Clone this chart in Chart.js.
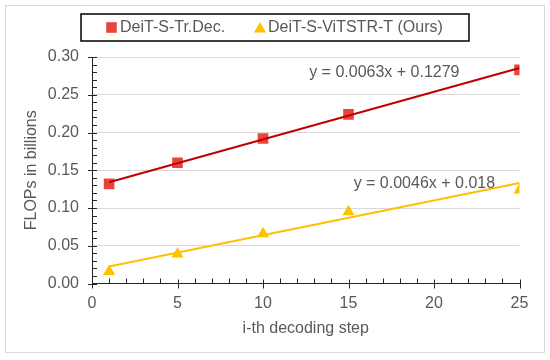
<!DOCTYPE html>
<html>
<head>
<meta charset="utf-8">
<script src="https://cdn.jsdelivr.net/npm/chart.js@4"></script>
<style>
  html, body { margin: 0; padding: 0; background: #fff; }
  canvas { display: block; }
</style>
</head>
<body>
<canvas id="chart" width="550" height="360"></canvas>
<script>
// values
const steps = [1, 5, 10, 15, 25];
const trDec = [0.132, 0.160, 0.192, 0.224, 0.283];
const vitstr = [0.016, 0.039, 0.066, 0.095, 0.124];

// linear trendlines, ends at x = 1 and x = 25
const trendX = [1, 25];
const trDecTrend = [0.1342, 0.2854];
const vitstrTrend = [0.0226, 0.133];

const seriesLabels = ['DeiT-S-Tr.Dec.', 'DeiT-S-ViTSTR-T (Ours)'];
const trendTexts = ['y = 0.0063x + 0.1279', 'y = 0.0046x + 0.018'];
const trendTextAt = [[12.7, 0.279], [15.3, 0.132]];

const RED = '#E9443A', RED_LINE = '#C00000', GOLD = '#FFC000';
const TXT = '#595959', AXIS = '#262626';

Chart.defaults.font.family = "'Liberation Sans', Arial, sans-serif";
Chart.defaults.font.size = 16;
Chart.defaults.color = TXT;

const toPts = (xs, ys) => xs.map((x, i) => ({x, y: ys[i]}));

// frame, legend box, minor/major tick marks, trendline equations
const decor = {
  id: 'decor',
  beforeDraw(chart) {
    const c = chart.ctx;
    c.save();
    c.fillStyle = '#fff';
    c.fillRect(0, 0, chart.width, chart.height);
    c.strokeStyle = '#D9D9D9';
    c.lineWidth = 1;
    c.strokeRect(5.5, 5.5, 539, 347);
    c.restore();
  },
  afterDraw(chart) {
    const c = chart.ctx;
    const xs = chart.scales.x, ys = chart.scales.y;
    const ax = chart.chartArea.left, ay = chart.chartArea.bottom;
    c.save();
    c.strokeStyle = AXIS;
    c.lineWidth = 1;
    c.beginPath();
    for (let i = 0; i <= 30; i++) {
      const py = Math.round(ys.getPixelForValue(i / 100)) + 0.5;
      if (i % 5 === 0) { c.moveTo(ax - 4, py); c.lineTo(ax + 5, py); }
      else { c.moveTo(ax, py); c.lineTo(ax + 5, py); }
    }
    for (let i = 0; i <= 25; i++) {
      const px = Math.round(xs.getPixelForValue(i)) + 0.5;
      if (i % 5 === 0) { c.moveTo(px, ay - 4); c.lineTo(px, ay + 5); }
      else { c.moveTo(px, ay); c.lineTo(px, ay - 5); }
    }
    c.stroke();

    // trendline equations
    c.fillStyle = TXT;
    c.font = "16px 'Liberation Sans', Arial, sans-serif";
    c.textBaseline = 'middle';
    c.textAlign = 'left';
    trendTexts.forEach((t, i) => {
      c.fillText(t, xs.getPixelForValue(trendTextAt[i][0]), ys.getPixelForValue(trendTextAt[i][1]));
    });

    // legend
    c.strokeStyle = '#000';
    c.lineWidth = 1.5;
    c.strokeRect(81, 14, 388, 27);
    const items = [
      {x: 111.5, style: 'rect', r: 7.5, color: RED, tx: 120},
      {x: 260, style: 'triangle', r: 7, color: GOLD, tx: 268}
    ];
    items.forEach((it, i) => {
      c.fillStyle = it.color;
      c.strokeStyle = it.color;
      Chart.helpers.drawPoint(c, {pointStyle: it.style, radius: it.r, borderWidth: 0}, it.x, it.style === 'triangle' ? 29 : 27.5);
      c.fillStyle = TXT;
      c.fillText(seriesLabels[i], it.tx, 28);
    });
    c.restore();
  }
};

new Chart(document.getElementById('chart'), {
  type: 'scatter',
  data: {
    datasets: [
      {label: seriesLabels[0], data: toPts(steps, trDec), pointStyle: 'rect', pointRadius: 7.5,
       backgroundColor: RED, borderColor: RED, borderWidth: 0, order: 2},
      {label: seriesLabels[1], data: toPts(steps, vitstr), pointStyle: 'triangle', pointRadius: 7,
       backgroundColor: GOLD, borderColor: GOLD, borderWidth: 0, order: 2},
      {label: 'trend1', data: toPts(trendX, trDecTrend), showLine: true, pointRadius: 0,
       borderColor: RED_LINE, borderWidth: 2, order: 1},
      {label: 'trend2', data: toPts(trendX, vitstrTrend), showLine: true, pointRadius: 0,
       borderColor: GOLD, borderWidth: 2, order: 1}
    ]
  },
  options: {
    responsive: false,
    animation: false,
    devicePixelRatio: 1,
    layout: {padding: {left: 0, top: 57, right: 30.5, bottom: 0}},
    plugins: {legend: {display: false}, tooltip: {enabled: false}},
    scales: {
      x: {
        type: 'linear', min: 0, max: 25,
        afterFit: s => { s.height = 76.5; },
        ticks: {stepSize: 5, padding: 10, color: TXT},
        grid: {display: true, drawOnChartArea: false, drawTicks: false},
        border: {display: true, color: AXIS, width: 1},
        title: {display: true, text: 'i-th decoding step', color: TXT, padding: {top: 0, bottom: 22}}
      },
      y: {
        type: 'linear', min: 0, max: 0.3,
        afterFit: s => { s.width = 92; },
        ticks: {stepSize: 0.05, padding: 13, color: TXT, callback: v => v.toFixed(2)},
        grid: {color: '#D9D9D9', drawTicks: false},
        border: {display: true, color: AXIS, width: 1},
        title: {display: true, text: 'FLOPs in billions', color: TXT, padding: {top: 22, bottom: 0}}
      }
    }
  },
  plugins: [decor]
});
</script>
</body>
</html>
